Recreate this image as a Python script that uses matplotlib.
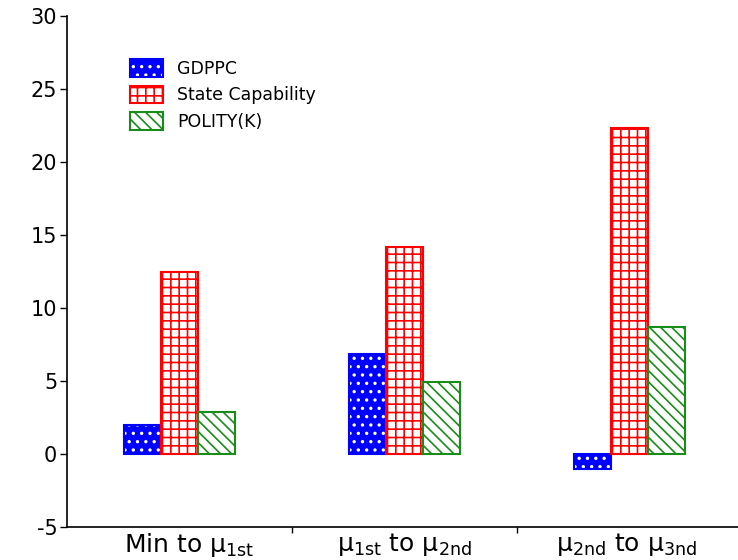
import matplotlib
matplotlib.use("Agg")
import matplotlib.pyplot as plt
import numpy as np
from matplotlib.patches import Patch
from matplotlib.legend_handler import HandlerTuple

categories = [r"Min to μ$_{\mathrm{1st}}$", r"μ$_{\mathrm{1st}}$ to μ$_{\mathrm{2nd}}$",
              r"μ$_{\mathrm{2nd}}$ to μ$_{\mathrm{3nd}}$"]
series_names = ["GDPPC", "State Capability", "POLITY(K)"]
gdppc = [2.0, 6.85, -1.05]
state_cap = [12.5, 14.2, 22.3]
polity = [2.9, 4.9, 8.7]
yticks = [-5, 0, 5, 10, 15, 20, 25, 30]

plt.rcParams['hatch.linewidth'] = 1.2

fig = plt.figure(figsize=(7.38, 5.6), dpi=100)
ax = fig.add_axes([67/738, 1-527/560, 1-67/738, (527-16)/560])

x = np.arange(len(categories)) + 0.5
w = 37/225
blue, red, green = "#0000ff", "#ff0000", "#1a8c1a"

# GDPPC: blue fill with white dots, blue border
ax.bar(x - w, gdppc, w, color=blue, edgecolor="white", hatch="..", linewidth=0)
ax.bar(x - w, gdppc, w, fill=False, edgecolor=blue, linewidth=1.5)
# State capability: white with red grid
ax.bar(x, state_cap, w, color="white", edgecolor=red, hatch="++", linewidth=1.5)
# Polity
ax.bar(x + w, polity, w, color="white", edgecolor=green, hatch="\\\\\\", linewidth=1.5)

ax.set_xlim(0, 671/225)
ax.set_ylim(-5, 30)
ax.set_yticks(yticks)
ax.set_yticklabels([str(t) for t in yticks], fontsize=15)
ax.set_xticks([1, 2])
ax.set_xticklabels([])
ax.set_xticks(x + np.array([0.045, 0.0, -0.013]), minor=True)
ax.set_xticklabels(categories, minor=True, fontsize=18)
ax.tick_params(axis='x', which='minor', length=0, pad=3)
ax.tick_params(axis='x', which='major', length=4, width=1)
ax.tick_params(axis='y', length=5, width=1, pad=2)
for s in ["top", "right"]:
    ax.spines[s].set_visible(False)
ax.spines["left"].set_linewidth(1.2)
ax.spines["bottom"].set_linewidth(1.2)

h1 = (Patch(facecolor=blue, edgecolor="white", hatch="..", linewidth=0),
      Patch(fill=False, edgecolor=blue, linewidth=1.5))
h2 = Patch(facecolor="white", edgecolor=red, hatch="++", linewidth=1.5)
h3 = Patch(facecolor="white", edgecolor=green, hatch="\\\\\\", linewidth=1.5)
fig.legend([h1, h2, h3], series_names, loc="upper left",
           bbox_to_anchor=(130/738, 1-59/560), frameon=False, fontsize=12.5,
           handlelength=1.9, handleheight=1.2, labelspacing=0.45,
           handletextpad=0.8, borderpad=0, borderaxespad=0,
           handler_map={tuple: HandlerTuple(ndivide=1, pad=0)})

fig.savefig("out.png", dpi=100)
